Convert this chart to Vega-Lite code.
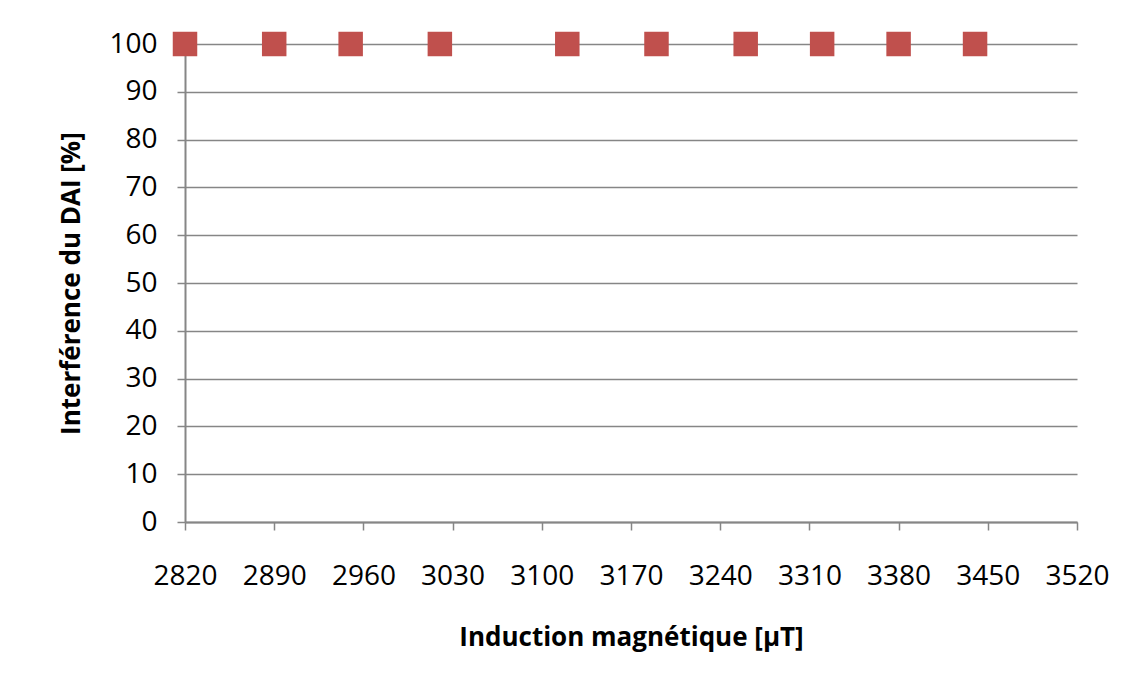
{
  "$schema": "https://vega.github.io/schema/vega-lite/v6.json",
  "width": 892,
  "height": 478,
  "autosize": {"type": "none"},
  "padding": {"left": 185, "top": 44, "right": 59, "bottom": 164},
  "background": "white",
  "config": {
    "view": {"stroke": null},
    "font": "Open Sans"
  },
  "data": {
    "values": [
      {"induction": 2820, "interference": 100},
      {"induction": 2890, "interference": 100},
      {"induction": 2950, "interference": 100},
      {"induction": 3020, "interference": 100},
      {"induction": 3120, "interference": 100},
      {"induction": 3190, "interference": 100},
      {"induction": 3260, "interference": 100},
      {"induction": 3320, "interference": 100},
      {"induction": 3380, "interference": 100},
      {"induction": 3440, "interference": 100}
    ]
  },
  "mark": {"type": "point", "shape": "square", "filled": true, "opacity": 1, "size": 600, "color": "#C0504D", "clip": false},
  "encoding": {
    "x": {
      "field": "induction",
      "type": "quantitative",
      "scale": {"domain": [2820, 3520], "nice": false, "zero": false},
      "axis": {
        "title": "Induction magnétique [µT]",
        "format": "d",
        "values": [2820, 2890, 2960, 3030, 3100, 3170, 3240, 3310, 3380, 3450, 3520],
        "grid": false,
        "domainColor": "#868686",
        "domainWidth": 2,
        "tickColor": "#868686",
        "tickWidth": 1.5,
        "tickSize": 8,
        "labelFont": "Open Sans",
        "labelFontSize": 28,
        "labelColor": "#000000",
        "labelPadding": 32,
        "labelFlush": false,
        "labelOverlap": false,
        "titleFont": "Open Sans",
        "titleFontSize": 26,
        "titleFontWeight": "bold",
        "titleColor": "#000000",
        "titleX": 446,
        "titleY": 115,
        "titleBaseline": "middle",
        "titleAlign": "center"
      }
    },
    "y": {
      "field": "interference",
      "type": "quantitative",
      "scale": {"domain": [0, 100], "nice": false},
      "axis": {
        "title": "Interférence du DAI [%]",
        "values": [0, 10, 20, 30, 40, 50, 60, 70, 80, 90, 100],
        "grid": true,
        "gridColor": "#868686",
        "gridWidth": 1.5,
        "domainColor": "#868686",
        "domainWidth": 2,
        "tickColor": "#868686",
        "tickWidth": 1.5,
        "tickSize": 8,
        "labelFont": "Open Sans",
        "labelFontSize": 28,
        "labelColor": "#000000",
        "labelPadding": 20,
        "labelFlush": false,
        "labelOverlap": false,
        "titleFont": "Open Sans",
        "titleFontSize": 26,
        "titleFontWeight": "bold",
        "titleColor": "#000000",
        "titleX": -114,
        "titleY": 239,
        "titleBaseline": "middle",
        "titleAlign": "center",
        "titleAngle": -90
      }
    }
  }
}
